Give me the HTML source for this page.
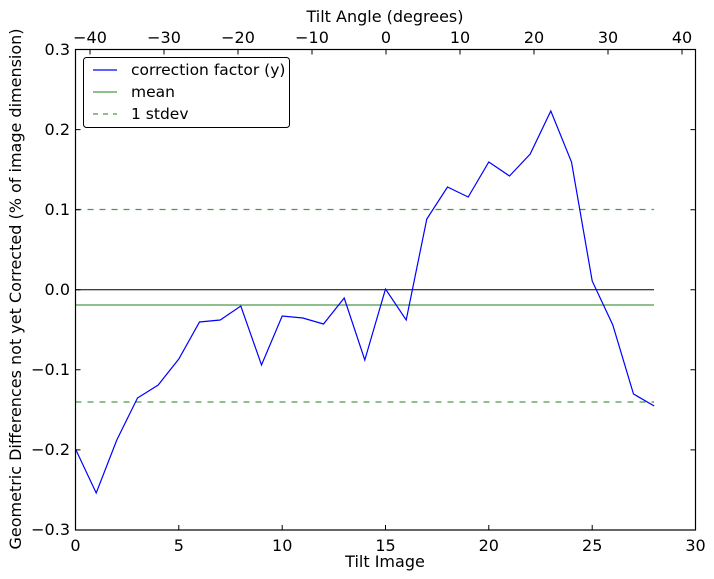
<!DOCTYPE html>
<html><head><style>body{margin:0;background:#fff}svg{display:block}text{font-family:"DejaVu Sans","Liberation Sans",sans-serif;font-size:16px;fill:#000}</style></head><body>
<svg width="714" height="579" xmlns="http://www.w3.org/2000/svg">
<g stroke="#000" stroke-width="1">
<line x1="75.5" y1="289.7" x2="654" y2="289.7"/>
</g>
<line x1="75.5" y1="305" x2="654" y2="305" stroke="#4a9a4a" stroke-width="1.2"/>
<line x1="75.5" y1="209.5" x2="654" y2="209.5" stroke="#4a9a4a" stroke-width="1.2" stroke-dasharray="6,6"/>
<line x1="75.5" y1="402" x2="654" y2="402" stroke="#4a9a4a" stroke-width="1.2" stroke-dasharray="6,6"/>
<polyline fill="none" stroke="#0000ff" stroke-width="1.2" points="75.5,449 96.2,493 116.8,440 137.5,398 158.2,385 178.8,359 199.5,322 220.2,320 240.8,306 261.5,365 282.2,316 302.8,318 323.5,324 344.2,298 364.8,360 385.5,289 406.2,320 426.8,219 447.5,187 468.2,197 488.8,162 509.5,176 530.2,154 550.8,111 571.5,162 592.2,281 612.8,325 633.5,394 654.2,406"/>
<rect x="75.5" y="49.5" width="620" height="480.5" fill="none" stroke="#000" stroke-width="1.2"/>
<g stroke="#000">
<path d="M75.5 530v-5M178.8 530v-5M282.2 530v-5M385.5 530v-5M488.8 530v-5M592.2 530v-5M695.5 530v-5"/>
<path d="M75.5 49.5h5M75.5 129.6h5M75.5 209.7h5M75.5 289.7h5M75.5 369.8h5M75.5 449.9h5M75.5 530h5M695.5 49.5h-5M695.5 129.6h-5M695.5 209.7h-5M695.5 289.7h-5M695.5 369.8h-5M695.5 449.9h-5"/>
<path d="M90 49.5v5M164 49.5v5M238 49.5v5M312 49.5v5M386 49.5v5M460 49.5v5M534 49.5v5M608 49.5v5M682 49.5v5"/>
</g>
<g text-anchor="middle">
<text x="75.5" y="551">0</text><text x="178.8" y="551">5</text><text x="282.2" y="551">10</text><text x="385.5" y="551">15</text><text x="488.8" y="551">20</text><text x="592.2" y="551">25</text><text x="695.5" y="551">30</text>
<text x="90" y="43">−40</text><text x="164" y="43">−30</text><text x="238" y="43">−20</text><text x="312" y="43">−10</text><text x="386" y="43">0</text><text x="460" y="43">10</text><text x="534" y="43">20</text><text x="608" y="43">30</text><text x="682" y="43">40</text>
<text x="385" y="567">Tilt Image</text>
<text x="385" y="22">Tilt Angle (degrees)</text>
</g>
<g text-anchor="end">
<text x="70" y="55">0.3</text><text x="70" y="135">0.2</text><text x="70" y="215">0.1</text><text x="70" y="295">0.0</text><text x="70" y="375">−0.1</text><text x="70" y="455">−0.2</text><text x="70" y="535">−0.3</text>
</g>
<text transform="translate(21,289) rotate(-90)" text-anchor="middle">Geometric Differences not yet Corrected (% of image dimension)</text>
<rect x="83.5" y="57.5" width="206" height="70" rx="3" fill="#fff" stroke="#000" stroke-width="1"/>
<line x1="93" y1="70" x2="117" y2="70" stroke="#0000ff" stroke-width="1.2"/>
<line x1="93" y1="92" x2="117" y2="92" stroke="#4a9a4a" stroke-width="1.2"/>
<line x1="93" y1="114" x2="117" y2="114" stroke="#4a9a4a" stroke-width="1.2" stroke-dasharray="5,5"/>
<text x="131" y="75" style="font-size:15.5px">correction factor (y)</text>
<text x="131" y="97" style="font-size:15.5px">mean</text>
<text x="131" y="119" style="font-size:15.5px">1 stdev</text>
</svg>
</body></html>
